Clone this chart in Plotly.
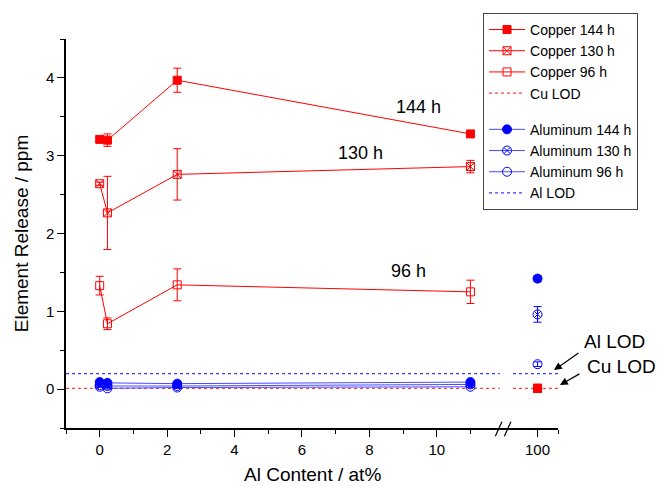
import plotly.graph_objects as go

# Al content (at%) of the alloy samples; pure Al is plotted on a separate broken segment
AL_CONTENT = [0, 0.23, 2.3, 11.0]
PURE_AL = [100]

# Copper release (ppm) and standard deviations
CU_144 = [3.21, 3.20, 3.97, 3.28]
CU_144_ERR = [0.03, 0.08, 0.155, 0.03]
CU_144_PURE = [0.01]

CU_130 = [2.64, 2.265, 2.76, 2.86]
CU_130_ERR = [0.02, 0.47, 0.33, 0.08]
CU_130_PURE = [0.01]

CU_96 = [1.33, 0.84, 1.34, 1.25]
CU_96_ERR = [0.12, 0.075, 0.205, 0.15]
CU_96_PURE = [0.01]

# Aluminium release (ppm) and standard deviations
AL_144 = [0.09, 0.08, 0.07, 0.09]
AL_144_ERR = [0.01, 0.01, 0.01, 0.01]
AL_144_PURE = [1.42]
AL_144_PURE_ERR = [0.04]

AL_130 = [0.05, 0.04, 0.04, 0.06]
AL_130_ERR = [0.01, 0.01, 0.01, 0.01]
AL_130_PURE = [0.96]
AL_130_PURE_ERR = [0.10]

AL_96 = [0.03, 0.01, 0.02, 0.03]
AL_96_ERR = [0.01, 0.01, 0.01, 0.01]
AL_96_PURE = [0.32]
AL_96_PURE_ERR = [0.03]

# Limits of detection (ppm)
CU_LOD = 0.01
AL_LOD = 0.2

X_TICKS_LEFT = [0, 2, 4, 6, 8, 10]
X_TICKS_RIGHT = [100]
Y_TICKS = [0, 1, 2, 3, 4]

FONT = "Liberation Sans, Arial, sans-serif"
RED = "#ff0000"
BLUE = "#0000ff"
BLUE_LINE = "#4a4aff"

fig = go.Figure()


def add_series(name, group, y, err, y_pure, err_pure, symbol, size, color, line_color):
    fig.add_trace(go.Scatter(
        x=AL_CONTENT, y=y, name=name, legendgroup=group, mode="lines+markers",
        line=dict(color=line_color, width=1),
        marker=dict(symbol=symbol, size=size, color=color, line=dict(color=color, width=1)),
        error_y=dict(type="data", array=err, color=color, thickness=1, width=4),
        xaxis="x", yaxis="y",
    ))
    fig.add_trace(go.Scatter(
        x=PURE_AL, y=y_pure, name=name, legendgroup=group, showlegend=False, mode="markers",
        marker=dict(symbol=symbol, size=size, color=color, line=dict(color=color, width=1)),
        error_y=dict(type="data", array=err_pure, color=color, thickness=1, width=4),
        xaxis="x2", yaxis="y",
    ))


def add_lod(name, group, value, color):
    left_x = [-1, 11.87]
    right_x = [98.8, 101]
    fig.add_trace(go.Scatter(
        x=left_x, y=[value] * len(left_x), name=name, legendgroup=group, mode="lines",
        line=dict(color=color, width=1.2, dash="3px,3px"), xaxis="x", yaxis="y",
    ))
    fig.add_trace(go.Scatter(
        x=right_x, y=[value] * len(right_x), name=name, legendgroup=group, showlegend=False,
        mode="lines", line=dict(color=color, width=1.2, dash="3px,3px"), xaxis="x2", yaxis="y",
    ))


# Aluminium first so copper marks sit on top
add_lod("Al LOD", "al", AL_LOD, "#3a3aff")
add_lod("Cu LOD", "cu", CU_LOD, "#ff4040")
add_series("Aluminum 96 h", "al", AL_96, AL_96_ERR, AL_96_PURE, AL_96_PURE_ERR,
           "circle-open", 9, BLUE, BLUE_LINE)
add_series("Aluminum 130 h", "al", AL_130, AL_130_ERR, AL_130_PURE, AL_130_PURE_ERR,
           "circle-x-open", 9, BLUE, BLUE_LINE)
add_series("Aluminum 144 h", "al", AL_144, AL_144_ERR, AL_144_PURE, AL_144_PURE_ERR,
           "circle", 9, BLUE, BLUE_LINE)
add_series("Copper 96 h", "cu", CU_96, CU_96_ERR, CU_96_PURE, [0],
           "square-open", 8, RED, RED)
add_series("Copper 130 h", "cu", CU_130, CU_130_ERR, CU_130_PURE, [0],
           "square-x-open", 8, RED, RED)
add_series("Copper 144 h", "cu", CU_144, CU_144_ERR, CU_144_PURE, [0],
           "square", 8, RED, RED)

# legend order: copper block then aluminium block
order = {"Copper 144 h": 1, "Copper 130 h": 2, "Copper 96 h": 3, "Cu LOD": 4,
         "Aluminum 144 h": 5, "Aluminum 130 h": 6, "Aluminum 96 h": 7, "Al LOD": 8}
for tr in fig.data:
    tr.legendrank = order[tr.name]

axis_common = dict(
    showline=True, linecolor="black", linewidth=1.5, ticks="outside", ticklen=7,
    tickwidth=1.2, tickcolor="black", showgrid=False, zeroline=False,
    tickfont=dict(family=FONT, size=15, color="black"),
)

split = 0.896

fig.update_layout(
    width=660, height=486,
    margin=dict(l=66, r=102, t=39, b=58),
    paper_bgcolor="white", plot_bgcolor="white",
    font=dict(family=FONT, color="black"),
    xaxis=dict(
        **axis_common, domain=[0, split], range=[-1, 12.08],
        tickvals=X_TICKS_LEFT, anchor="y",
        minor=dict(ticks="outside", ticklen=4, tickcolor="black", tickwidth=1.2,
                   tickvals=[-1, 1, 3, 5, 7, 9, 11], showgrid=False),
    ),
    xaxis2=dict(
        **axis_common, domain=[split, 1], range=[98.5, 101],
        tickvals=X_TICKS_RIGHT, anchor="y",
        minor=dict(ticks="outside", ticklen=4, tickcolor="black", tickwidth=1.2,
                   tickvals=[101], showgrid=False),
    ),
    yaxis=dict(
        **axis_common, range=[-0.5, 4.5], tickvals=Y_TICKS, anchor="x",
        title=dict(text="Element Release / ppm", font=dict(family=FONT, size=19), standoff=12),
        minor=dict(ticks="outside", ticklen=4, tickcolor="black", tickwidth=1.2,
                   tickvals=[-0.5, 0.5, 1.5, 2.5, 3.5, 4.5], showgrid=False),
    ),
    legend=dict(
        x=0.8476, y=1.067, xanchor="left", yanchor="top",
        bgcolor="white", bordercolor="#444444", borderwidth=1,
        font=dict(family=FONT, size=14, color="black"),
        tracegroupgap=15, traceorder="grouped", itemwidth=36,
    ),
    showlegend=True,
)

# shared x-axis title across both segments
fig.add_annotation(
    text="Al Content / at%", xref="paper", yref="paper", x=0.5, y=-0.12,
    xanchor="center", yanchor="middle", showarrow=False,
    font=dict(family=FONT, size=19, color="black"),
)

# axis break marks
for x0 in (0.8726, 0.8909):
    fig.add_shape(type="line", xref="paper", yref="paper",
                  x0=x0, y0=-0.021, x1=x0 + 0.0134, y1=0.016,
                  line=dict(color="black", width=1.2))

# time labels next to the copper curves
for text, x, y in (("144 h", 9.47, 3.62), ("130 h", 7.74, 3.04), ("96 h", 9.17, 1.52)):
    fig.add_annotation(text=text, x=x, y=y, xref="x", yref="y", showarrow=False,
                       xanchor="center", yanchor="middle",
                       font=dict(family=FONT, size=18, color="black"))

# LOD labels with arrows
for text, tx, ty, hx, hy, ax, ay in (
    ("Al LOD", 1.114, 0.222, 0.9919, 0.149, 26, -18),
    ("Cu LOD", 1.130, 0.157, 1.004, 0.1105, 21, -12),
):
    fig.add_annotation(text=text, x=tx, y=ty, xref="paper", yref="paper", showarrow=False,
                       xanchor="center", yanchor="middle",
                       font=dict(family=FONT, size=19, color="black"))
    fig.add_annotation(text="", x=hx, y=hy, xref="paper", yref="paper", showarrow=True,
                       ax=ax, ay=ay, arrowhead=2, arrowsize=1.3, arrowwidth=1.2,
                       arrowcolor="black")

fig.write_html("out.html")
